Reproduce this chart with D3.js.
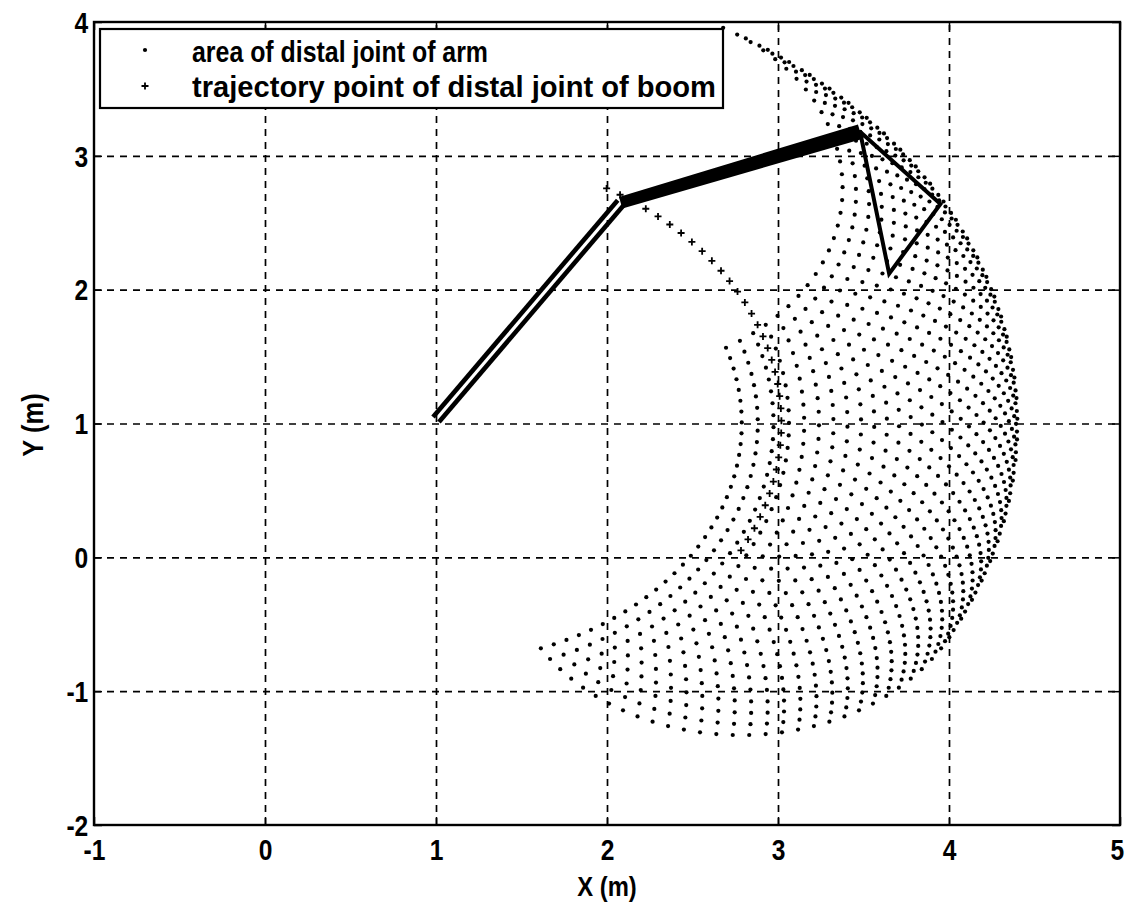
<!DOCTYPE html>
<html>
<head>
<meta charset="utf-8">
<script src="https://cdn.jsdelivr.net/npm/d3@7"></script>
<style>
body { margin: 0; background: #fff; }
text { font-family: "Liberation Sans", Arial, sans-serif; font-weight: bold; fill: #000; }
.grid line { stroke: #000; stroke-width: 1.7; stroke-dasharray: 7,6; }
.grid path { display: none; }
</style>
</head>
<body>
<div id="chart"></div>
<script>
// tick values
var xTicks = [-1, 0, 1, 2, 3, 4, 5];
var yTicks = [-2, -1, 0, 1, 2, 3, 4];

// boom pivot and link lengths (m)
var pivot = [1.0, 1.0];
var boomLength = 2.02;
var armLength = 1.38;

// boom angle (deg) at each trajectory point of distal joint of boom
var boomAngles = [-28, -25.4, -22.8, -20.2, -17.6, -15, -12.4, -9.8, -7.2, -4.6,
    -2, 0.6, 3.2, 5.8, 8.4, 11, 13.6, 16.2, 18.8, 21.4, 24, 26.6, 29.2, 31.8,
    34.4, 37, 39.6, 42.2, 44.8, 47.4, 50, 52.6, 55.2, 57.8, 60.4];

// arm angle relative to boom (deg)
var armAngles = [0, -4, -8, -12, -16, -20, -24, -28, -32, -36, -40, -44, -48, -52,
    -56, -60, -64, -68, -72, -76, -80, -84, -88, -92, -96, -100, -104, -108,
    -112, -116, -120];

// drawn pose
var boomX = [1.0, 2.08];
var boomY = [1.03, 2.65];
var armX = [2.08, 3.48];
var armY = [2.65, 3.18];
var bucketX = [3.48, 3.95, 3.65, 3.48];
var bucketY = [3.18, 2.64, 2.12, 3.18];

var legendLabels = ["area of distal joint of arm", "trajectory point of distal joint of boom"];

// set up svg
var svgWidth = 1127;
var svgHeight = 907;

var margin = {
    top: 22,
    right: 7,
    bottom: 82,
    left: 94
};

var width = svgWidth - margin.left - margin.right;
var height = svgHeight - margin.top - margin.bottom;

var svg = d3.select("#chart")
    .append("svg")
    .attr("width", svgWidth)
    .attr("height", svgHeight);

var chartGroup = svg.append("g")
    .attr("transform", `translate(${margin.left}, ${margin.top})`);

var xScale = d3.scaleLinear().domain([-1, 5]).range([0, width]);
var yScale = d3.scaleLinear().domain([-2, 4]).range([height, 0]);

var rad = Math.PI / 180;

// boom tip positions
var boomTips = boomAngles.map(function (a) {
    return {
        x: pivot[0] + boomLength * Math.cos(a * rad),
        y: pivot[1] + boomLength * Math.sin(a * rad),
        a: a
    };
});

// arm tip positions
var armTips = [];
boomTips.forEach(function (b) {
    armAngles.forEach(function (q) {
        armTips.push({
            x: b.x + armLength * Math.cos((b.a + q) * rad),
            y: b.y + armLength * Math.sin((b.a + q) * rad)
        });
    });
});

// grid
chartGroup.append("g")
    .attr("class", "grid")
    .attr("transform", `translate(0, ${height})`)
    .call(d3.axisBottom(xScale).tickValues(xTicks.slice(1, -1)).tickSize(-height).tickFormat(""));

chartGroup.append("g")
    .attr("class", "grid")
    .call(d3.axisLeft(yScale).tickValues(yTicks.slice(1, -1)).tickSize(-width).tickFormat(""));

// dots
chartGroup.append("g")
    .selectAll("circle")
    .data(armTips)
    .enter()
    .append("circle")
    .attr("cx", d => xScale(d.x))
    .attr("cy", d => yScale(d.y))
    .attr("r", 2.1)
    .attr("fill", "#000");

// plus markers
var plusPath = "M-3.5,0H3.5M0,-3.5V3.5";
chartGroup.append("g")
    .selectAll("path")
    .data(boomTips)
    .enter()
    .append("path")
    .attr("d", plusPath)
    .attr("transform", d => `translate(${xScale(d.x)}, ${yScale(d.y)})`)
    .attr("stroke", "#000")
    .attr("stroke-width", 1.8)
    .attr("fill", "none");

// boom as a double line
var bx0 = xScale(boomX[0]), by0 = yScale(boomY[0]);
var bx1 = xScale(boomX[1]), by1 = yScale(boomY[1]);
var blen = Math.hypot(bx1 - bx0, by1 - by0);
var nx = -(by1 - by0) / blen, ny = (bx1 - bx0) / blen;
[-3.9, 3.9].forEach(function (off) {
    chartGroup.append("line")
        .attr("x1", bx0 + nx * off)
        .attr("y1", by0 + ny * off)
        .attr("x2", bx1 + nx * off)
        .attr("y2", by1 + ny * off)
        .attr("stroke", "#000")
        .attr("stroke-width", 4.6);
});

// arm as a thick tapering band
var ax0 = xScale(armX[0]), ay0 = yScale(armY[0]);
var ax1 = xScale(armX[1]), ay1 = yScale(armY[1]);
var alen = Math.hypot(ax1 - ax0, ay1 - ay0);
var mx = -(ay1 - ay0) / alen, my = (ax1 - ax0) / alen;
chartGroup.append("path")
    .attr("d", d3.line()([
        [ax0 + mx * 6, ay0 + my * 6],
        [ax1 + mx * 7.5, ay1 + my * 7.5],
        [ax1 - mx * 7.5, ay1 - my * 7.5],
        [ax0 - mx * 6, ay0 - my * 6]
    ]) + "Z")
    .attr("fill", "#000");

// bucket
chartGroup.append("path")
    .attr("d", d3.line().x((d, i) => xScale(d)).y((d, i) => yScale(bucketY[i]))(bucketX))
    .attr("fill", "none")
    .attr("stroke", "#000")
    .attr("stroke-width", 4)
    .attr("stroke-linejoin", "miter");

// axes with inward ticks
var fmt = d => String(d);
var xAxis = chartGroup.append("g")
    .attr("transform", `translate(0, ${height})`)
    .call(d3.axisBottom(xScale).tickValues(xTicks).tickSize(-8).tickPadding(14).tickFormat(fmt));
chartGroup.append("g")
    .call(d3.axisTop(xScale).tickValues(xTicks).tickSize(-8).tickFormat(""));
var yAxis = chartGroup.append("g")
    .call(d3.axisLeft(yScale).tickValues(yTicks).tickSize(-8).tickPadding(7).tickFormat(fmt));
chartGroup.append("g")
    .attr("transform", `translate(${width}, 0)`)
    .call(d3.axisRight(yScale).tickValues(yTicks).tickSize(-8).tickFormat(""));

chartGroup.selectAll(".domain").remove();
chartGroup.selectAll(".tick line").attr("stroke", "#000").attr("stroke-width", 1.5);
chartGroup.selectAll(".tick text")
    .style("font-size", "30px")
    .attr("fill", "#000")
    .attr("transform", "scale(0.82, 1)");
yAxis.selectAll(".tick text").attr("dy", "0.34em");
// last x label sits on the edge, nudge it in a little
xAxis.selectAll(".tick text").filter(d => d === 5).attr("x", -4);

// frame
chartGroup.append("rect")
    .attr("x", 0)
    .attr("y", 0)
    .attr("width", width)
    .attr("height", height)
    .attr("fill", "none")
    .attr("stroke", "#000")
    .attr("stroke-width", 2.4);

// axis titles
svg.append("text")
    .attr("transform", `translate(${margin.left + width / 2}, 896) scale(0.85, 1)`)
    .attr("text-anchor", "middle")
    .style("font-size", "28px")
    .text("X (m)");

svg.append("text")
    .attr("transform", "translate(43, 425) rotate(-90) scale(0.85, 1)")
    .attr("text-anchor", "middle")
    .style("font-size", "30px")
    .text("Y (m)");

// legend
var legend = svg.append("g");
legend.append("rect")
    .attr("x", 100)
    .attr("y", 29)
    .attr("width", 623)
    .attr("height", 79)
    .attr("fill", "#fff")
    .attr("stroke", "#000")
    .attr("stroke-width", 2.2);

legend.append("circle")
    .attr("cx", 145)
    .attr("cy", 50)
    .attr("r", 2.1)
    .attr("fill", "#000");

legend.append("path")
    .attr("d", plusPath)
    .attr("transform", "translate(145, 86)")
    .attr("stroke", "#000")
    .attr("stroke-width", 1.8);

var legendWidths = [296, 524];
legend.selectAll("text.leg")
    .data(legendLabels)
    .enter()
    .append("text")
    .attr("class", "leg")
    .attr("x", 192)
    .attr("y", (d, i) => 62 + i * 35)
    .attr("textLength", (d, i) => legendWidths[i])
    .attr("lengthAdjust", "spacingAndGlyphs")
    .style("font-size", "29px")
    .text(d => d);
</script>
</body>
</html>
